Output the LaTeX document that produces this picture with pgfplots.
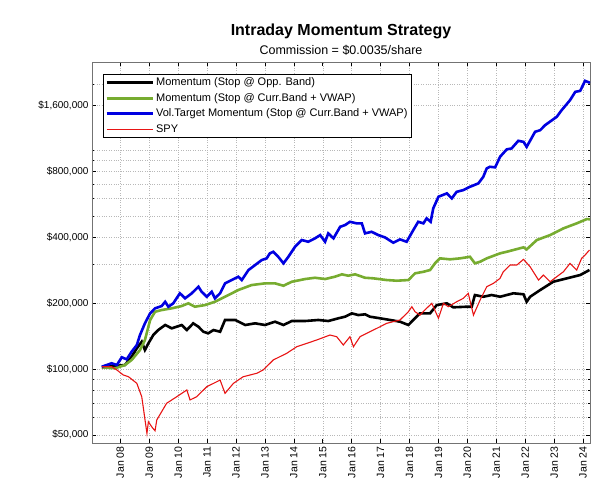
\documentclass[border=0pt]{standalone}
\usepackage{fontspec}
\setmainfont{Liberation Sans}
\usepackage{pgfplots}
\pgfplotsset{compat=1.18}
\definecolor{mgreen}{RGB}{119,172,48}
\definecolor{mblue}{RGB}{0,0,225}
\definecolor{mred}{RGB}{232,20,20}
\begin{document}
\begin{tikzpicture}[x=1pt,y=1pt]
\path[use as bounding box] (-92,-50) rectangle (523,443);
\begin{axis}[
  scale only axis, width=498pt, height=381pt,
  at={(0,0)}, anchor=south west,
  xmin=2007.02, xmax=2024.24,
  ymode=log, ymin=45900, ymax=2530000,
  xtick={2008,2009,2010,2011,2012,2013,2014,2015,2016,2017,2018,2019,2020,2021,2022,2023,2024},
  xticklabels={Jan 08,Jan 09,Jan 10,Jan 11,Jan 12,Jan 13,Jan 14,Jan 15,Jan 16,Jan 17,Jan 18,Jan 19,Jan 20,Jan 21,Jan 22,Jan 23,Jan 24},
  xticklabel style={rotate=90, anchor=east, font=\fontsize{10.5}{12}\selectfont},
  ytick={50000,100000,200000,400000,800000,1600000},
  yticklabels={{\$50,000},{\$100,000},{\$200,000},{\$400,000},{\$800,000},{\$1,600,000}},
  yticklabel style={font=\fontsize{10}{12}\selectfont},
  minor ytick={60000,70000,80000,90000,300000,500000,600000,700000,900000,1000000,2000000},
  tick pos=both, xticklabel pos=lower, yticklabel pos=left,
  tick align=inside,
  major tick length=4pt, minor tick length=2.5pt,
  tick style={black, line width=0.6pt},
  xmajorgrids, ymajorgrids, yminorgrids,
  major grid style={dash pattern=on 0.6pt off 1.8pt, black!28, line width=0.5pt},
  minor grid style={dash pattern=on 0.6pt off 1.8pt, black!28, line width=0.5pt},
  axis line style={black!55, line width=0.8pt},
  legend style={at={(0.022,0.9685)}, anchor=north west, draw=black, line width=0.7pt,
    font=\fontsize{11}{13}\selectfont, inner xsep=2pt, inner ysep=1pt,
    nodes={inner sep=2.2pt, text height=8pt, text depth=2.5pt}, row sep=0.6pt},
  legend cell align=left,
  legend image code/.code={\draw[#1] (0pt,0pt) -- (46pt,0pt);},
]
\addplot[black, line width=2.6pt] coordinates {
(2007.36,101800) (2008.16,104300) (2008.39,113800) (2008.57,124300) (2008.74,133200) (2008.85,122100) (2008.97,131000) (2009.14,143000) (2009.31,150700) (2009.55,158900) (2009.78,153400) (2010.12,158900) (2010.30,150700) (2010.52,161700) (2010.70,156000) (2010.87,148000) (2011.04,145600) (2011.22,150700) (2011.45,148000) (2011.62,167500) (2011.97,167500) (2012.32,158900) (2012.66,161700) (2013.00,158900) (2013.35,164500) (2013.64,158900) (2013.93,165700) (2014.39,165700) (2014.85,167500) (2015.19,165700) (2015.54,170500) (2015.77,173400) (2016.00,179600) (2016.23,176400) (2016.46,177800) (2016.63,173400) (2016.98,170500) (2017.33,167500) (2017.67,164500) (2017.96,158900) (2018.13,167500) (2018.36,179600) (2018.71,179600) (2018.94,196000) (2019.29,199600) (2019.51,191400) (2019.98,192600) (2020.15,192600) (2020.26,217800) (2020.55,213900) (2020.84,217800) (2021.13,213900) (2021.59,221800) (2021.94,219500) (2022.05,202900) (2022.17,213900) (2022.52,229600) (2022.97,250500) (2023.44,259600) (2023.90,268800) (2024.22,283300)
};
\addlegendentry{Momentum (Stop @ Opp. Band)}
\addplot[mgreen, line width=2.6pt] coordinates {
(2007.36,101800) (2007.82,100700) (2008.16,104300) (2008.39,109900) (2008.68,122100) (2008.85,135700) (2009.03,167400) (2009.20,182700) (2009.43,186000) (2009.78,189400) (2010.12,194000) (2010.35,199600) (2010.58,192600) (2010.93,196000) (2011.27,202900) (2011.62,213900) (2012.08,229600) (2012.54,241900) (2013.00,246200) (2013.35,246200) (2013.64,240200) (2013.93,250500) (2014.39,257700) (2014.73,261200) (2015.08,257700) (2015.42,264100) (2015.66,270800) (2015.88,266900) (2016.12,270800) (2016.46,261200) (2016.75,259600) (2017.21,255000) (2017.56,253200) (2017.96,255000) (2018.19,273600) (2018.48,278200) (2018.71,283300) (2018.88,304000) (2019.05,320400) (2019.40,317100) (2019.75,320400) (2020.09,325800) (2020.26,304000) (2020.44,309100) (2020.67,320400) (2021.13,337700) (2021.36,343400) (2021.94,359700) (2022.05,352100) (2022.40,388500) (2022.86,409300) (2023.32,439200) (2023.78,463000) (2024.13,484400) (2024.24,483000)
};
\addlegendentry{Momentum (Stop @ Curr.Band + VWAP)}
\addplot[mblue, line width=2.6pt] coordinates {
(2007.36,102400) (2007.53,104300) (2007.70,106200) (2007.88,104300) (2008.05,113100) (2008.22,110700) (2008.39,119900) (2008.57,128700) (2008.68,143000) (2008.85,161700) (2009.03,179600) (2009.20,189400) (2009.43,194000) (2009.55,202900) (2009.66,192600) (2009.83,199600) (2010.06,221800) (2010.24,210400) (2010.47,221800) (2010.70,237700) (2010.81,225500) (2010.99,213900) (2011.16,225500) (2011.27,210400) (2011.45,221800) (2011.62,246200) (2011.85,255000) (2012.08,264100) (2012.20,255000) (2012.43,283300) (2012.66,298600) (2012.89,314700) (2013.06,320400) (2013.17,337700) (2013.29,343400) (2013.46,325800) (2013.64,304000) (2013.81,325800) (2014.04,362000) (2014.27,388500) (2014.50,381600) (2014.73,395400) (2014.91,409300) (2015.08,381600) (2015.19,416700) (2015.37,395400) (2015.60,446600) (2015.77,454700) (2015.94,470800) (2016.17,463000) (2016.35,463000) (2016.46,416700) (2016.69,423700) (2016.92,409300) (2017.15,399500) (2017.44,377600) (2017.67,391200) (2017.90,381600) (2018.13,431400) (2018.30,470800) (2018.48,463000) (2018.59,488000) (2018.73,470800) (2018.82,542200) (2019.00,612600) (2019.29,634700) (2019.46,602100) (2019.63,645300) (2019.86,657100) (2020.09,680300) (2020.38,705200) (2020.55,755800) (2020.67,825800) (2020.78,839700) (2020.96,834600) (2021.13,933000) (2021.36,1008400) (2021.53,1019000) (2021.76,1103600) (2021.94,1092000) (2022.05,1036000) (2022.34,1213000) (2022.52,1235000) (2022.69,1302000) (2023.09,1421000) (2023.26,1524000) (2023.55,1693000) (2023.73,1848000) (2023.90,1867000) (2024.07,2074000) (2024.24,2032000)
};
\addlegendentry{Vol.Target Momentum (Stop @ Curr.Band + VWAP)}
\addplot[mred, line width=1.1pt] coordinates {
(2007.36,102400) (2007.70,102400) (2007.88,99000) (2008.10,93900) (2008.28,92200) (2008.57,86000) (2008.74,74700) (2008.92,50800) (2008.97,57400) (2009.09,54300) (2009.20,52200) (2009.26,58500) (2009.60,69700) (2009.95,74700) (2010.30,80200) (2010.41,72200) (2010.64,74700) (2010.99,83000) (2011.45,89000) (2011.62,77400) (2011.91,86000) (2012.25,92200) (2012.72,95600) (2012.94,99000) (2013.29,110000) (2013.75,117900) (2014.10,126400) (2014.45,131000) (2014.79,135700) (2015.25,143000) (2015.48,140500) (2015.71,128700) (2015.94,140500) (2016.06,126400) (2016.29,140500) (2016.52,145600) (2016.75,150700) (2016.98,156000) (2017.21,161700) (2017.67,167500) (2017.96,182700) (2018.08,192600) (2018.19,182700) (2018.36,176400) (2018.59,189400) (2018.77,199600) (2019.00,170500) (2019.17,199600) (2019.34,192600) (2019.63,202900) (2019.86,210400) (2020.03,221800) (2020.21,176400) (2020.44,206600) (2020.67,237700) (2020.90,246200) (2021.13,259600) (2021.24,278200) (2021.48,298600) (2021.71,298600) (2021.94,317100) (2022.17,293200) (2022.46,255000) (2022.63,268800) (2022.86,250500) (2023.09,264100) (2023.32,278200) (2023.55,304000) (2023.78,283300) (2023.95,320400) (2024.07,331700) (2024.22,349600)
};
\addlegendentry{SPY}
\end{axis}
\node at (249,412) {\fontsize{16}{18}\selectfont\bfseries Intraday Momentum Strategy};
\node at (249,393) {\fontsize{12.5}{14}\selectfont Commission = \$0.0035/share};
\end{tikzpicture}
\end{document}
